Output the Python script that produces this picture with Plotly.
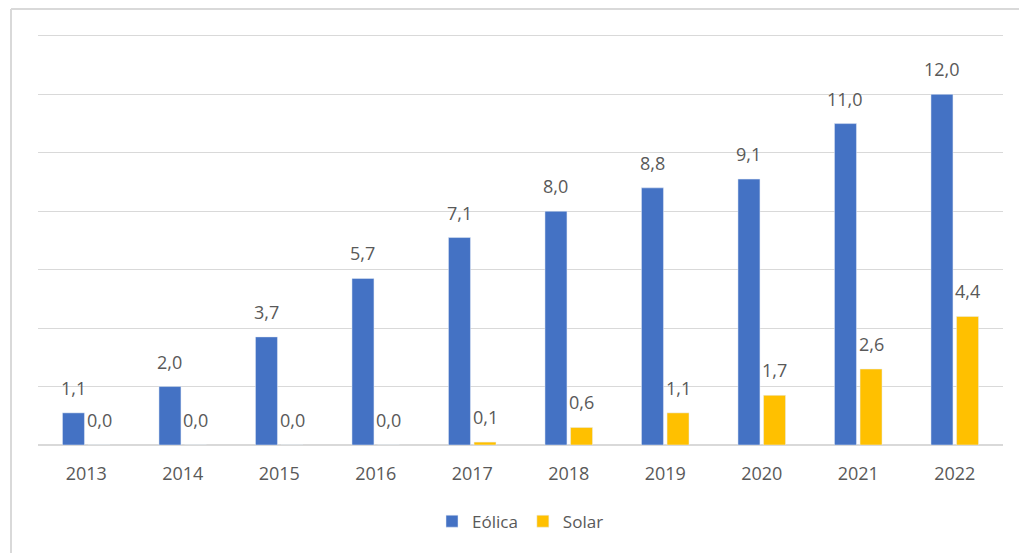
import plotly.graph_objects as go

years = ["2013", "2014", "2015", "2016", "2017", "2018", "2019", "2020", "2021", "2022"]
eolica = [1.1, 2.0, 3.7, 5.7, 7.1, 8.0, 8.8, 9.1, 11.0, 12.0]
solar = [0.0, 0.0, 0.0, 0.0, 0.1, 0.6, 1.1, 1.7, 2.6, 4.4]

def fmt(v):
    return f"{v:.1f}".replace(".", ",")

font_family = "Open Sans, Noto Sans, sans-serif"
text_color = "#595959"

W, H = 1019, 553
ML, MR, MT, MB = 38, 16, 33, 108
BARGAP, BARGROUPGAP = 0.47, 0.14

fig = go.Figure()
fig.add_trace(go.Bar(x=years, y=eolica, name="Eólica", marker_color="#4472C4"))
fig.add_trace(go.Bar(x=years, y=solar, name="Solar", marker_color="#FFC000"))

# value labels above each bar (category axis: annotation x is the category index)
cat_px = (W - ML - MR) / len(years)
slot_px = cat_px * (1 - BARGAP) / 2
for series, sign in ((eolica, -1), (solar, 1)):
    for i, v in enumerate(series):
        fig.add_annotation(
            x=i, y=v, text=fmt(v), showarrow=False,
            xanchor="center", yanchor="bottom",
            xshift=sign * slot_px / 2, yshift=11,
            font=dict(size=18, color=text_color, family=font_family),
        )

fig.update_layout(
    width=W, height=H,
    margin=dict(l=ML, r=MR, t=MT, b=MB),
    paper_bgcolor="white", plot_bgcolor="white",
    barmode="group", bargap=BARGAP, bargroupgap=BARGROUPGAP,
    font=dict(family=font_family, size=18, color=text_color),
    showlegend=True,
    legend=dict(orientation="h", x=0.5, xanchor="center", y=-0.186, yanchor="middle",
                font=dict(size=17, color=text_color), traceorder="normal"),
    xaxis=dict(type="category", range=[-0.5, len(years) - 0.5], showgrid=False,
               showline=True, linecolor="#d9d9d9", linewidth=1, ticks="",
               ticklabelstandoff=12, tickfont=dict(size=18, color=text_color)),
    yaxis=dict(range=[0, 14.1], tickvals=[2, 4, 6, 8, 10, 12, 14], showgrid=True,
               gridcolor="#d9d9d9", showticklabels=False, zeroline=True,
               zerolinecolor="#d9d9d9", ticks=""),
)

# outer chart border (left and top edges)
plot_h = H - MT - MB
top_y = (H - MB - 9) / plot_h
left_x = (11 - ML) / (W - ML - MR)
fig.add_shape(type="line", xref="paper", yref="paper",
              x0=left_x, x1=1.03, y0=top_y, y1=top_y,
              line=dict(color="#d9d9d9", width=2), layer="below")
fig.add_shape(type="line", xref="paper", yref="paper",
              x0=left_x, x1=left_x, y0=top_y, y1=-0.3,
              line=dict(color="#d9d9d9", width=2), layer="below")

fig.write_html("out.html")
